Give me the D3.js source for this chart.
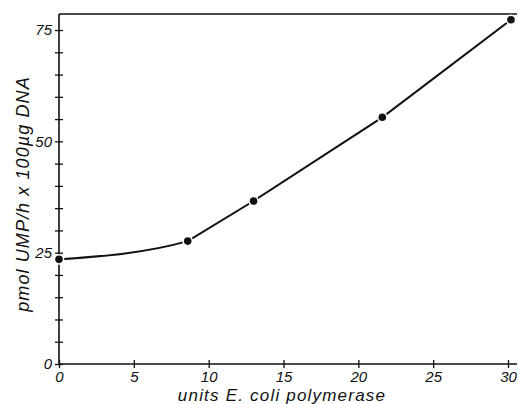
<!DOCTYPE html>
<html lang="en">
<head>
    <meta charset="UTF-8">
    <title>UMP incorporation vs polymerase</title>
    <script src="https://cdn.jsdelivr.net/npm/d3@7"></script>
    <style>
        html, body {
            margin: 0;
            background: white;
        }
        svg text {
            font-family: "Liberation Sans", Arial, sans-serif;
            font-style: italic;
            fill: #111;
        }
    </style>
</head>
<body>
    <div id="vis"></div>
    <script>
        // values
        var units = [0, 8.6, 13.0, 21.6, 30.2];
        var pmol = [23.5, 27.6, 36.6, 55.4, 77.3];
        var xTicks = [0, 5, 10, 15, 20, 25, 30];
        var yTicks = [0, 5, 10, 15, 20, 25, 30, 35, 40, 45, 50, 55, 60, 65, 70, 75];
        var yLabels = [0, 25, 50, 75];

        var width = 518, height = 404;

        var svg = d3.select('#vis')
            .append('svg')
            .attr('width', width)
            .attr('height', height);

        var x = d3.scaleLinear().domain([0, 30.6]).range([59, 517]);
        var y = d3.scaleLinear().domain([0, 78.6]).range([364, 14]);

        var ink = '#111';

        // x axis, crossing ticks
        var xAxis = d3.axisBottom(x)
            .tickValues(xTicks)
            .tickSize(0)
            .tickPadding(7)
            .tickSizeOuter(0);

        var gx = svg.append('g')
            .attr('transform', 'translate(0,' + y(0) + ')')
            .call(xAxis);
        gx.select('.domain').remove();
        gx.selectAll('.tick line')
            .attr('y1', -4).attr('y2', 4)
            .attr('stroke', ink).attr('stroke-width', 1.3);
        gx.selectAll('.tick text')
            .attr('font-size', 15)
            .attr('font-family', null);
        gx.append('line')
            .attr('x1', x(0)).attr('x2', x.range()[1])
            .attr('stroke', ink).attr('stroke-width', 1.6);

        // y axis, crossing ticks, only every 25 labelled
        var yAxis = d3.axisLeft(y)
            .tickValues(yTicks)
            .tickSize(0)
            .tickPadding(7)
            .tickFormat(function(d){ return yLabels.indexOf(d) >= 0 ? d : ''; });

        var gy = svg.append('g')
            .attr('transform', 'translate(' + x(0) + ',0)')
            .call(yAxis);
        gy.select('.domain').remove();
        gy.selectAll('.tick line')
            .attr('x1', -4).attr('x2', 4)
            .attr('stroke', ink).attr('stroke-width', 1.3);
        gy.selectAll('.tick text')
            .attr('font-size', 15)
            .attr('font-family', null);
        gy.append('line')
            .attr('y1', y(0)).attr('y2', y.range()[1])
            .attr('stroke', ink).attr('stroke-width', 1.6);

        // top frame line
        svg.append('line')
            .attr('x1', x(0)).attr('x2', x.range()[1])
            .attr('y1', y.range()[1]).attr('y2', y.range()[1])
            .attr('stroke', ink).attr('stroke-width', 1.6);

        var pts = units.map(function(u, i){ return [u, pmol[i]]; });

        // curved start: monotone through first three points, kept only up to the 2nd point
        svg.append('clipPath')
            .attr('id', 'firstSeg')
            .append('rect')
            .attr('x', x(0) - 5)
            .attr('y', 0)
            .attr('width', x(units[1]) - x(0) + 5)
            .attr('height', height);

        var curve = d3.line()
            .x(function(d){ return x(d[0]); })
            .y(function(d){ return y(d[1]); })
            .curve(d3.curveMonotoneX);

        svg.append('path')
            .datum(pts.slice(0, 3))
            .attr('d', curve)
            .attr('clip-path', 'url(#firstSeg)')
            .attr('fill', 'none')
            .attr('stroke', ink)
            .attr('stroke-width', 2);

        // straight part from the 2nd point on
        var straight = d3.line()
            .x(function(d){ return x(d[0]); })
            .y(function(d){ return y(d[1]); });

        svg.append('path')
            .datum(pts.slice(1))
            .attr('d', straight)
            .attr('fill', 'none')
            .attr('stroke', ink)
            .attr('stroke-width', 2);

        svg.selectAll('.dot')
            .data(pts)
            .enter()
            .append('circle')
            .attr('class', 'dot')
            .attr('cx', function(d){ return x(d[0]); })
            .attr('cy', function(d){ return y(d[1]); })
            .attr('r', 4.6)
            .attr('fill', ink)
            .attr('stroke', 'white')
            .attr('stroke-width', 1.6);

        // axis titles
        svg.append('text')
            .attr('x', 282)
            .attr('y', 401)
            .attr('text-anchor', 'middle')
            .attr('font-size', 17)
            .style('letter-spacing', '1.2px')
            .text('units E. coli polymerase');

        svg.append('text')
            .attr('transform', 'translate(29,194)rotate(-90)')
            .attr('text-anchor', 'middle')
            .attr('font-size', 18)
            .style('letter-spacing', '1.1px')
            .text('pmol UMP/h x 100\u00b5g DNA');
    </script>
</body>
</html>
